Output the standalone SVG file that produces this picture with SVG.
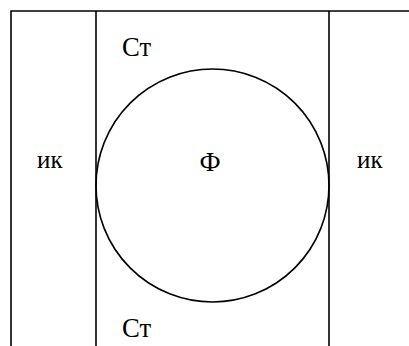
<svg xmlns="http://www.w3.org/2000/svg" width="409" height="346" viewBox="0 0 409 346">
<style>
.ln{fill:none;stroke:#000;stroke-width:1.6}
.t{font-family:"Liberation Serif","Times New Roman",serif;font-size:26.7px;fill:#000}
.s{font-size:25px}
</style>
<rect width="409" height="346" fill="#fff"/>
<g id="frame">
<path class="ln" d="M11,346 V11 H409"/>
<line class="ln" x1="96" y1="11" x2="96" y2="346"/>
<line class="ln" x1="329" y1="11" x2="329" y2="346"/>
</g>
<g id="circle">
<circle class="ln" cx="212.5" cy="185.5" r="116.5"/>
<text class="t" x="210" y="171" text-anchor="middle">Ф</text>
</g>
<g id="st-top"><text class="t" x="122" y="56">Ст</text></g>
<g id="st-bottom"><text class="t" x="122" y="337">Ст</text></g>
<g id="ik-left"><text class="t s" x="37" y="168">ик</text></g>
<g id="ik-right"><text class="t s" x="357" y="168">ик</text></g>
</svg>
